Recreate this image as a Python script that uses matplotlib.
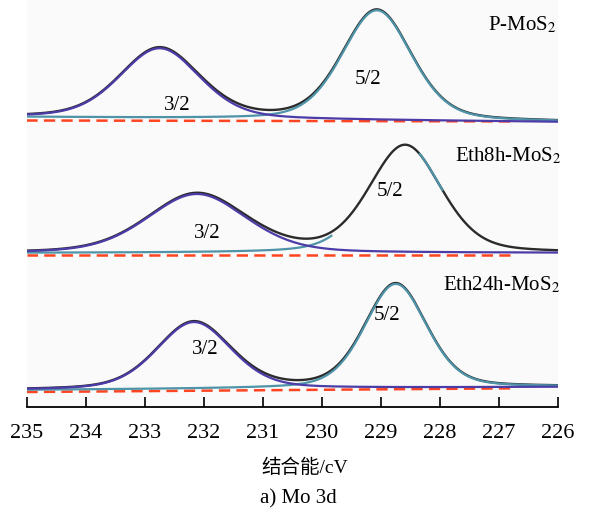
import numpy as np
import matplotlib
matplotlib.use("Agg")
import matplotlib.pyplot as plt

plt.rcParams["font.family"] = ["Liberation Serif", "Noto Sans CJK SC"]
plt.rcParams["mathtext.fontset"] = "stix"

# binding energy axis (eV)
e_min, e_max = 226.0, 235.0
tick_values = [235, 234, 233, 232, 231, 230, 229, 228, 227, 226]

samples = ["P-MoS$_2$", "Eth8h-MoS$_2$", "Eth24h-MoS$_2$"]

# baselines of each spectrum (offset intensity, left end at 235 eV / right end at 226 eV)
base_left = [290, 154, 17]
base_right = [285, 154, 20]
dash_left = [286.5, 152, 15]
dash_right = [285.5, 152, 19]

# Mo 3d3/2 component
c32_center = [232.75, 232.12, 232.17]
c32_height = [70, 59, 67]
c32_fwhm = [1.6, 1.98, 1.49]

# Mo 3d5/2 component
c52_center = [229.07, 228.59, 228.75]
c52_height = [110, 107, 104]
c52_fwhm = [1.39, 1.44, 1.24]

ETA = 0.3  # lorentzian share of the pseudo-voigt line shape

BLACK = "#2b2b2b"
PURPLE = "#4b3ca8"
TEAL = "#4e93a8"
RED = "#ff4422"


def peak(e, center, height, fwhm):
    sigma = fwhm / 2.3548
    gamma = fwhm / 2
    g = np.exp(-0.5 * ((e - center) / sigma) ** 2)
    lo = 1 / (1 + ((e - center) / gamma) ** 2)
    return height * (ETA * lo + (1 - ETA) * g)


e = np.linspace(e_min, e_max, 800)

fig = plt.figure(figsize=(5.93, 5.15), dpi=100)
ax = fig.add_axes([27 / 593, 108 / 515, 531 / 593, 407 / 515])
ax.set_facecolor("#fafafa")

for i in range(3):
    base = np.interp(e, [e_min, e_max], [base_right[i], base_left[i]])
    p32 = peak(e, c32_center[i], c32_height[i], c32_fwhm[i])
    p52 = peak(e, c52_center[i], c52_height[i], c52_fwhm[i])

    dash = np.interp(e, [e_min, e_max], [dash_right[i], dash_left[i]])
    m = e >= 226.8
    ax.plot(e[m], dash[m], color=RED, lw=1.8, ls=(0, (4.5, 2.5)), zorder=1)

    ax.plot(e, base + p32 + p52, color=BLACK, lw=1.7, zorder=2)
    if i == 1:
        m1 = e >= 229.83
        ax.plot(e[m1], (base + p52)[m1], color=TEAL, lw=1.6, zorder=3)
        m2 = (e >= 227.95) & (e <= 228.35)
        ax.plot(e[m2], (base + p32 + p52)[m2], color=TEAL, lw=1.6, zorder=3)
    else:
        ax.plot(e, base + p52, color=TEAL, lw=1.6, zorder=3)
    ax.plot(e, base + p32, color=PURPLE, lw=1.6, zorder=4)

# peak labels
lab32 = [(232.46, 301), (231.95, 173), (231.98, 57)]
lab52 = [(229.22, 328), (228.85, 215), (228.90, 92)]
labname = [(226.02, 382), (225.93, 251), (225.97, 122)]
for i in range(3):
    ax.text(*lab32[i], "3/2", fontsize=15, ha="center", va="center")
    ax.text(*lab52[i], "5/2", fontsize=15, ha="center", va="center")
    ax.text(*labname[i], samples[i], fontsize=15, ha="right", va="center")

ax.set_xlim(e_max, e_min)
ax.set_ylim(0, 407)
ax.set_xticks(tick_values)
ax.set_xticklabels([str(t) for t in tick_values], fontsize=16)
ax.set_yticks([])
for s in ["top", "left", "right"]:
    ax.spines[s].set_visible(False)
ax.spines["bottom"].set_linewidth(1.3)
ax.tick_params(axis="x", direction="in", length=7, width=1.2, pad=12)

fig.text(305 / 593, 1 - 468 / 515, "结合能/cV", fontsize=14, ha="center", va="center")
fig.text(298 / 593, 1 - 499 / 515, "a) Mo 3d", fontsize=15, ha="center", va="center")

fig.savefig("out.png", dpi=100)
